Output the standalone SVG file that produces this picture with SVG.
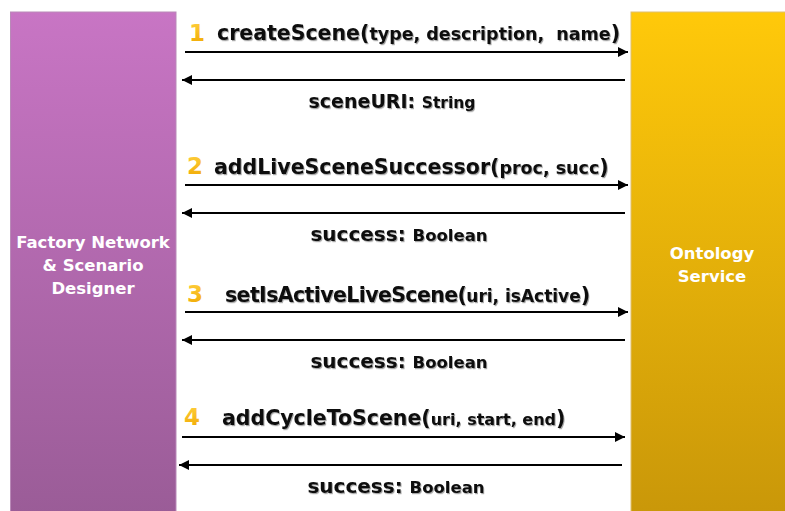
<svg xmlns="http://www.w3.org/2000/svg" width="785" height="511" viewBox="0 0 785 511">
  <defs>
    <linearGradient id="gradDesigner" x1="0" y1="0" x2="0" y2="1">
      <stop offset="0" stop-color="#C875C4"/>
      <stop offset="1" stop-color="#9A5C97"/>
    </linearGradient>
    <linearGradient id="gradOntology" x1="0" y1="0" x2="0" y2="1">
      <stop offset="0" stop-color="#FFC90A"/>
      <stop offset="1" stop-color="#C99709"/>
    </linearGradient>
    <linearGradient id="gradNum" x1="0" y1="0" x2="0" y2="1">
      <stop offset="0" stop-color="#FFD040"/>
      <stop offset="1" stop-color="#F0A800"/>
    </linearGradient>
    <filter id="shadow" x="-5%" y="-20%" width="110%" height="150%">
      <feDropShadow dx="1" dy="1.2" stdDeviation="0.6" flood-color="#000" flood-opacity="0.35"/>
    </filter>
    <marker id="arrow" viewBox="0 0 10 10" refX="10" refY="5" markerWidth="10" markerHeight="10" markerUnits="userSpaceOnUse" orient="auto">
      <path d="M0,0 L10,5 L0,10 Z" fill="#000"/>
    </marker>
  </defs>
  <style>
    .lane-label { font-family: "DejaVu Sans", "Liberation Sans", sans-serif; font-weight: bold; font-size: 16.5px; fill: #FFFFFF; text-anchor: middle; }
    .num { font-family: "DejaVu Sans", "Liberation Sans", sans-serif; font-weight: bold; font-size: 23px; fill: url(#gradNum); }
    .msg { font-family: "DejaVu Sans", "Liberation Sans", sans-serif; font-weight: bold; font-size: 20.5px; fill: #111; white-space: pre; filter: url(#shadow); }
    .msg .arg { font-size: 17.5px; }
    .msg.tight { letter-spacing: -0.6px; }
    .msg.tight .arg { font-size: 17px; letter-spacing: 0; }
    .msg .arg.small { font-size: 16px; }
    .ret { font-family: "DejaVu Sans", "Liberation Sans", sans-serif; font-weight: bold; font-size: 20px; fill: #111; text-anchor: middle; filter: url(#shadow); }
    .ret .type { font-size: 16.5px; }
    .ret.uri { font-size: 19px; }
    .ret.uri .type { font-size: 15.5px; }
    .call { stroke: #000; stroke-width: 2; fill: none; marker-end: url(#arrow); }
  </style>

  <rect width="785" height="511" fill="#FFFFFF"/>

  <!-- client lane -->
  <g id="designer">
    <rect x="10.5" y="12" width="165.5" height="505" fill="url(#gradDesigner)" stroke="#B98AB8" stroke-width="1"/>
    <text class="lane-label" x="93" y="248">Factory Network</text>
    <text class="lane-label" x="93" y="271">&amp; Scenario</text>
    <text class="lane-label" x="93" y="294">Designer</text>
  </g>

  <!-- service lane -->
  <g id="ontology">
    <rect x="631" y="12" width="160" height="505" fill="url(#gradOntology)" stroke="#E0C070" stroke-width="1"/>
    <text class="lane-label" x="712" y="259">Ontology</text>
    <text class="lane-label" x="712" y="282">Service</text>
  </g>

  <!-- request / response arrows -->
  <g id="connectors">
    <line class="call" x1="185" y1="52" x2="628" y2="52"/>
    <line class="call" x1="625" y1="80" x2="182" y2="80"/>
    <line class="call" x1="185" y1="185" x2="628" y2="185"/>
    <line class="call" x1="625" y1="213" x2="182" y2="213"/>
    <line class="call" x1="185" y1="312" x2="628" y2="312"/>
    <line class="call" x1="625" y1="340" x2="182" y2="340"/>
    <line class="call" x1="182" y1="437" x2="625" y2="437"/>
    <line class="call" x1="622" y1="465" x2="179" y2="465"/>
  </g>

  <!-- call labels -->
  <g id="call-1">
    <text class="num" x="189" y="41">1</text>
    <text class="msg" x="217" y="40">createScene(<tspan class="arg">type, description,  name</tspan>)</text>
    <text class="ret uri" x="392" y="108">sceneURI: <tspan class="type">String</tspan></text>
  </g>
  <g id="call-2">
    <text class="num" x="187" y="174">2</text>
    <text class="msg" x="214" y="174">addLiveSceneSuccessor(<tspan class="arg">proc, succ</tspan>)</text>
    <text class="ret" x="399" y="241">success: <tspan class="type">Boolean</tspan></text>
  </g>
  <g id="call-3">
    <text class="num" x="187" y="302">3</text>
    <text class="msg tight" x="225" y="302">setIsActiveLiveScene(<tspan class="arg">uri, isActive</tspan>)</text>
    <text class="ret" x="399" y="368">success: <tspan class="type">Boolean</tspan></text>
  </g>
  <g id="call-4">
    <text class="num" x="184" y="425">4</text>
    <text class="msg" x="222" y="425">addCycleToScene(<tspan class="arg small">uri, start, end</tspan>)</text>
    <text class="ret" x="396" y="493">success: <tspan class="type">Boolean</tspan></text>
  </g>
</svg>
